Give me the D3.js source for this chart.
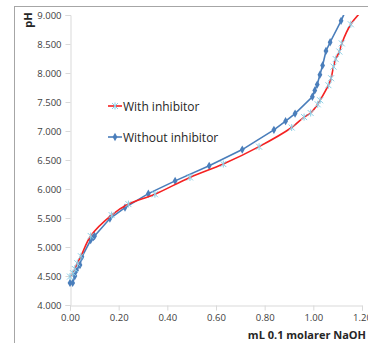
<!DOCTYPE html>
<html>
<head>
<meta charset="utf-8">
<script src="https://cdn.jsdelivr.net/npm/d3@7"></script>
<style>
  body { margin: 0; background: #fff; }
  text { font-family: "Open Sans", "Liberation Sans", sans-serif; }
</style>
</head>
<body>
<div id="chart"></div>
<script>
// titration data
var withoutX = [0, 0.011, 0.02, 0.027, 0.041, 0.049, 0.085, 0.096, 0.101, 0.164, 0.226, 0.322, 0.432, 0.572, 0.708, 0.838, 0.886, 0.925, 0.996, 1.006, 1.016, 1.027, 1.038, 1.052, 1.069, 1.114, 1.13];
var withoutPH = [4.38, 4.38, 4.50, 4.60, 4.69, 4.83, 5.12, 5.17, 5.19, 5.49, 5.68, 5.92, 6.14, 6.40, 6.68, 7.02, 7.17, 7.30, 7.59, 7.70, 7.80, 7.97, 8.13, 8.38, 8.53, 8.90, 9.05];
var withX = [0, 0.012, 0.02, 0.03, 0.045, 0.085, 0.171, 0.24, 0.349, 0.493, 0.63, 0.777, 0.911, 0.962, 0.989, 1.018, 1.028, 1.062, 1.073, 1.083, 1.092, 1.107, 1.117, 1.154, 1.195];
var withPH = [4.49, 4.55, 4.62, 4.72, 4.84, 5.19, 5.55, 5.74, 5.91, 6.20, 6.43, 6.73, 7.06, 7.24, 7.31, 7.46, 7.53, 7.79, 7.91, 8.11, 8.24, 8.37, 8.51, 8.84, 9.05];
var xTicks = [0, 0.2, 0.4, 0.6, 0.8, 1.0, 1.2];
var yTicks = [4, 4.5, 5, 5.5, 6, 6.5, 7, 7.5, 8, 8.5, 9];
var seriesNames = ["With inhibitor", "Without inhibitor"];

var width = 368, height = 343;
var svg = d3.select('#chart').append('svg')
  .attr('width', width)
  .attr('height', height);

// outer chart border (runs off the page on the right/bottom)
svg.append('rect')
  .attr('x', 14.5).attr('y', 6.5)
  .attr('width', 400).attr('height', 400)
  .attr('fill', 'none')
  .attr('stroke', '#a6a6a6');

var x = d3.scaleLinear().domain([0, 1.2]).range([70, 362]);
var y = d3.scaleLinear().domain([4, 9]).range([305, 15]);

svg.append('clipPath').attr('id', 'plot')
  .append('rect')
  .attr('x', 66).attr('y', 15)
  .attr('width', 302).attr('height', 295);

var xAxis = svg.append('g')
  .attr('transform', 'translate(0,305.5)')
  .call(d3.axisBottom(x).tickValues(xTicks).tickSize(5).tickPadding(4)
    .tickFormat(d3.format('.2f')));
var yAxis = svg.append('g')
  .attr('transform', 'translate(70.5,0)')
  .call(d3.axisLeft(y).tickValues(yTicks).tickSize(5).tickPadding(4)
    .tickFormat(d3.format('.3f')));

[xAxis, yAxis].forEach(function (ax) {
  ax.select('.domain').attr('stroke', '#d9d9d9');
  ax.selectAll('.tick line').attr('stroke', '#d9d9d9');
  ax.selectAll('.tick text')
    .attr('fill', '#404040')
    .style('font-size', '9.5px');
});

svg.append('text')
  .attr('transform', 'translate(32,20) rotate(-90)')
  .attr('text-anchor', 'middle')
  .style('font-size', '11px')
  .style('font-weight', 'bold')
  .attr('fill', '#262626')
  .text('pH');

svg.append('text')
  .attr('x', 366).attr('y', 339)
  .attr('text-anchor', 'end')
  .style('font-size', '11px')
  .style('font-weight', 'bold')
  .attr('fill', '#262626')
  .text('mL 0.1 molarer NaOH');

var withoutData = withoutX.map(function (v, i) { return [v, withoutPH[i]]; });
var withData = withX.map(function (v, i) { return [v, withPH[i]]; });

var lineFlat = d3.line().x(function (d) { return x(d[0]); }).y(function (d) { return y(d[1]); });
var lineSmooth = d3.line().curve(d3.curveCatmullRom)
  .x(function (d) { return x(d[0]); }).y(function (d) { return y(d[1]); });

var blue = '#4a7ebb', red = '#f52222', cyan = '#8ccfe6';

var plot = svg.append('g').attr('clip-path', 'url(#plot)');

plot.append('path')
  .datum(withoutData)
  .attr('d', lineFlat)
  .attr('fill', 'none')
  .attr('stroke', blue)
  .attr('stroke-width', 1.6);

plot.selectAll('.diamond')
  .data(withoutData.filter(function (d) { return d[1] <= 9; }))
  .enter().append('path')
  .attr('class', 'diamond')
  .attr('transform', function (d) { return 'translate(' + x(d[0]) + ',' + y(d[1]) + ')'; })
  .attr('d', d3.symbol().type(d3.symbolDiamond).size(20))
  .attr('fill', blue);

plot.append('path')
  .datum(withData)
  .attr('d', lineSmooth)
  .attr('fill', 'none')
  .attr('stroke', red)
  .attr('stroke-width', 1.6);

// star-like cross markers
var star = 'M-3,-3L3,3M-3,3L3,-3M0,-3.5L0,3.5';
plot.selectAll('.star')
  .data(withData.filter(function (d) { return d[1] <= 9; }))
  .enter().append('path')
  .attr('class', 'star')
  .attr('transform', function (d) { return 'translate(' + x(d[0]) + ',' + y(d[1]) + ')'; })
  .attr('d', star)
  .attr('fill', 'none')
  .attr('stroke', cyan)
  .attr('stroke-width', 1);

// legend
var legend = svg.selectAll('.legend')
  .data(seriesNames)
  .enter().append('g')
  .attr('class', 'legend')
  .attr('transform', function (d, i) { return 'translate(108,' + (106 + i * 31) + ')'; });

legend.append('line')
  .attr('x1', 0).attr('x2', 14)
  .attr('stroke', function (d, i) { return i === 0 ? red : blue; })
  .attr('stroke-width', 1.6);
legend.append('path')
  .attr('transform', 'translate(7,0)')
  .attr('d', function (d, i) {
    return i === 0 ? star : d3.symbol().type(d3.symbolDiamond).size(20)();
  })
  .attr('fill', function (d, i) { return i === 0 ? 'none' : blue; })
  .attr('stroke', function (d, i) { return i === 0 ? cyan : 'none'; });
legend.append('text')
  .attr('x', 15).attr('y', 4.5)
  .style('font-size', '12px')
  .attr('fill', '#262626')
  .text(function (d) { return d; });
</script>
</body>
</html>
